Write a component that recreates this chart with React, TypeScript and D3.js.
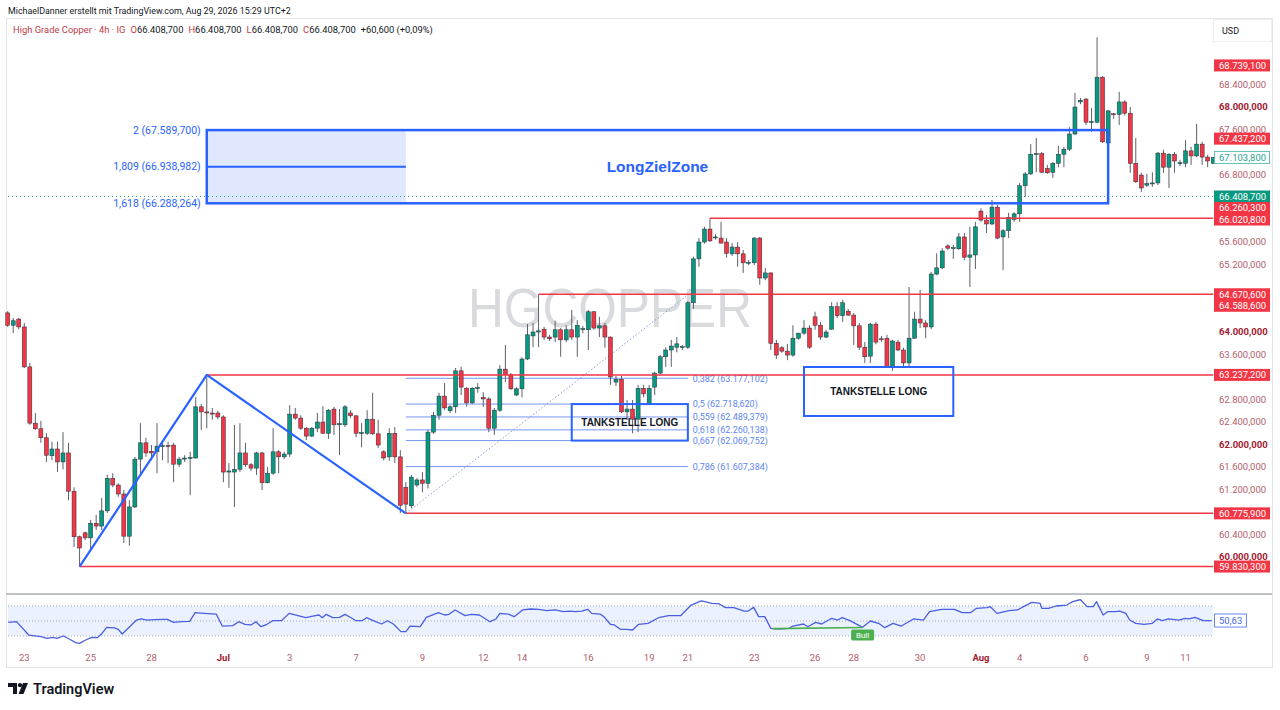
import React from 'react';
import * as d3 from 'd3';

// ---------- DATA ----------
// 4h candles, [open, high, low, close]
const ohlc: number[][] = [
  [64.34,64.37,64.09,64.12],[64.12,64.25,63.98,64.20],[64.23,64.25,64.05,64.09],[64.09,64.16,63.36,63.38],
  [63.38,63.45,62.35,62.38],[62.38,62.56,62.26,62.28],[62.28,62.42,62.03,62.12],[62.12,62.20,61.69,61.81],
  [61.80,62.05,61.72,61.92],[61.92,62.05,61.51,61.69],[61.69,62.22,61.56,61.85],[61.85,62.03,61.01,61.17],
  [61.17,61.24,60.18,60.36],[60.36,60.38,59.83,60.16],[60.43,60.45,60.30,60.34],[60.34,60.66,60.12,60.60],
  [60.60,60.75,60.48,60.55],[60.55,61.05,60.48,60.82],[60.82,61.46,60.78,61.40],[61.40,61.49,61.24,61.28],
  [61.28,61.31,61.07,61.12],[61.12,61.19,60.25,60.37],[60.37,61.01,60.20,60.89],[60.89,61.78,60.87,61.74],
  [61.74,62.38,61.49,62.03],[62.03,62.12,61.78,61.85],[61.88,61.99,61.72,61.85],[61.87,62.38,61.49,61.97],
  [61.97,62.03,61.72,61.98],[61.98,62.05,61.67,61.97],[61.99,62.03,61.33,61.65],[61.65,61.78,61.60,61.74],
  [61.74,61.81,61.69,61.76],[61.76,61.87,61.10,61.77],[61.76,62.84,61.75,62.67],[62.67,62.72,62.26,62.58],
  [62.58,63.24,62.29,62.56],[62.56,62.65,62.44,62.54],[62.56,62.60,62.45,62.49],[62.49,62.52,61.33,61.51],
  [61.51,61.67,61.23,61.53],[61.51,62.35,60.89,61.56],[61.56,62.38,61.51,61.85],[61.85,62.03,61.60,61.64],
  [61.64,61.67,61.53,61.58],[61.58,61.87,61.46,61.85],[61.85,61.87,61.19,61.32],[61.32,61.60,61.31,61.49],
  [61.49,62.29,61.46,61.87],[61.87,61.90,61.49,61.78],[61.78,61.87,61.74,61.83],[61.83,62.70,61.78,62.54],
  [62.54,62.65,62.44,62.47],[62.47,62.52,62.26,62.29],[62.29,62.31,62.08,62.15],[62.15,62.31,62.13,62.29],
  [62.29,62.56,62.22,62.40],[62.40,62.68,62.19,62.20],[62.20,62.63,62.10,62.61],[62.63,62.67,62.17,62.35],
  [62.35,62.63,61.81,62.37],[62.35,62.70,62.31,62.67],[62.56,62.61,62.47,62.51],[62.51,62.52,62.13,62.20],
  [62.20,62.38,61.95,62.21],[62.20,62.61,62.17,62.45],[62.45,62.92,62.17,62.19],[62.19,62.44,61.94,61.99],
  [61.87,61.90,61.72,61.76],[61.78,62.29,61.71,62.20],[62.20,62.31,61.67,61.78],[61.78,61.90,60.78,60.92],
  [61.24,61.33,60.78,60.94],[60.91,61.46,60.87,61.42],[61.28,61.40,61.24,61.37],[61.37,61.51,61.15,61.31],
  [61.31,62.26,61.22,62.22],[62.22,62.58,62.19,62.52],[62.52,62.92,62.44,62.86],[62.86,63.09,62.61,62.65],
  [62.60,62.70,62.56,62.67],[62.67,63.36,62.56,63.31],[63.31,63.38,62.88,63.02],[63.00,63.02,62.67,62.74],
  [62.74,63.02,62.72,63.00],[63.00,63.09,62.92,63.01],[62.84,62.93,62.67,62.81],[62.81,62.84,62.22,62.29],
  [62.29,62.65,62.17,62.61],[62.61,63.41,62.58,63.34],[63.34,63.77,63.11,63.24],[63.24,63.27,62.97,62.99],
  [62.88,63.02,62.86,62.99],[62.99,63.55,62.84,63.52],[63.52,64.14,63.50,63.95],[63.93,64.16,63.73,64.00],
  [64.00,64.67,63.73,64.02],[64.05,64.09,63.86,63.91],[63.91,63.95,63.84,63.88],[63.91,64.20,63.82,64.04],
  [64.04,64.07,63.56,63.86],[63.86,64.12,63.82,64.04],[64.04,64.39,63.86,63.91],[63.91,64.21,63.56,64.12],
  [64.05,64.11,63.98,64.06],[64.04,64.39,63.68,64.36],[64.36,64.37,64.04,64.07],[64.07,64.27,63.91,64.11],
  [64.11,64.16,63.72,63.91],[63.91,63.92,63.06,63.20],[63.11,63.22,63.04,63.16],[63.16,63.22,62.56,62.58],
  [62.58,62.79,62.44,62.63],[62.63,62.79,62.20,62.45],[62.45,63.06,62.22,63.00],[63.00,63.06,62.84,62.90],
  [62.72,63.06,62.70,63.00],[63.02,63.29,62.88,63.27],[63.27,63.59,63.24,63.56],[63.56,63.73,63.38,63.68],
  [63.68,63.86,63.38,63.75],[63.73,63.91,63.64,63.79],[63.73,63.77,63.68,63.74],[63.73,64.55,63.70,64.52],
  [64.52,65.34,64.41,65.30],[65.30,65.67,65.16,65.60],[65.60,65.87,65.57,65.83],[65.83,66.02,65.60,65.62],
  [65.68,65.74,65.64,65.69],[65.67,65.96,65.58,65.58],[65.60,65.67,65.32,65.40],[65.39,65.58,65.35,65.51],
  [65.51,65.60,65.16,65.39],[65.39,65.46,65.05,65.23],[65.23,65.28,65.19,65.24],[65.23,65.69,65.19,65.67],
  [65.67,65.69,64.84,64.96],[64.96,65.14,64.92,65.05],[65.05,65.06,63.68,63.80],[63.80,63.86,63.52,63.59],
  [63.72,63.75,63.63,63.66],[63.66,63.79,63.50,63.59],[63.59,64.12,63.56,63.89],[63.89,63.98,63.86,63.98],
  [63.98,64.21,63.95,64.07],[64.07,64.12,63.70,63.73],[64.27,64.36,64.04,64.12],[64.12,64.18,63.86,63.91],
  [63.91,64.04,63.89,64.00],[64.05,64.53,64.04,64.45],[64.45,64.53,64.25,64.29],[64.29,64.57,64.18,64.52],
  [64.37,64.41,64.29,64.30],[64.30,64.34,63.77,64.11],[64.11,64.16,63.68,63.73],[63.73,63.82,63.45,63.56],
  [63.57,64.16,63.45,64.14],[64.14,64.18,63.78,63.82],[63.88,63.93,63.82,63.87],[63.89,63.95,63.37,63.38],
  [63.38,63.86,63.31,63.84],[63.82,63.86,63.66,63.68],[63.68,63.72,63.36,63.45],[63.45,64.80,63.38,63.89],
  [63.89,64.36,63.88,64.23],[64.23,64.75,64.07,64.16],[64.16,64.21,63.89,64.09],[64.09,65.07,64.05,65.03],
  [65.03,65.40,65.01,65.14],[65.14,65.49,65.12,65.44],[65.53,65.56,65.46,65.49],[65.49,65.55,65.30,65.50],
  [65.48,65.76,65.46,65.69],[65.69,65.76,65.28,65.33],[65.33,65.87,64.80,65.37],[65.37,65.96,65.12,65.87],
  [66.15,66.20,65.96,65.99],[65.99,66.08,65.76,65.92],[65.92,66.35,65.90,66.22],[66.22,66.26,65.65,65.67],
  [65.69,65.83,65.10,65.80],[65.80,66.12,65.67,66.04],[66.00,66.13,65.96,66.10],[66.10,66.65,65.96,66.60],
  [66.60,66.84,66.40,66.81],[66.81,67.34,66.79,67.16],[67.16,67.45,66.84,67.17],[67.17,67.20,66.83,66.84],
  [66.91,66.97,66.81,66.83],[66.84,67.02,66.74,67.00],[67.00,67.31,66.93,67.16],[67.16,67.29,66.93,67.25],
  [67.25,67.64,67.22,67.52],[67.52,68.25,67.50,68.00],[68.09,68.16,68.05,68.12],[68.14,68.16,67.68,67.73],
  [67.73,67.98,67.56,67.74],[67.73,69.24,67.71,68.53],[68.53,68.55,67.36,67.38],[67.36,67.95,67.32,67.93],
  [67.88,67.89,67.79,67.87],[67.87,68.27,67.68,68.09],[68.09,68.12,67.85,67.89],[67.89,68.00,66.83,67.00],
  [67.00,67.45,66.65,66.67],[66.79,66.83,66.49,66.56],[66.61,66.81,66.58,66.64],[66.64,66.84,66.58,66.65],
  [66.65,67.20,66.61,67.18],[67.18,67.24,66.83,66.93],[66.93,67.18,66.56,67.16],[67.16,67.20,66.83,67.04],
  [67.00,67.06,66.95,67.01],[67.00,67.41,66.93,67.22],[67.22,67.29,66.97,67.13],[67.13,67.70,67.11,67.34],
  [67.34,67.38,66.97,67.11],[67.11,67.15,66.93,67.04],[67.00,67.11,66.99,67.10],
];

// RSI line, sampled points (candle index, value)
const rsiIdx = [1.1,2.6,4.8,7.0,8.1,9.2,9.9,11.1,12.2,13.3,14.0,15.1,16.2,17.2,17.9,18.9,20.3,21.0,21.7,23.2,24.3,25.1,26.2,27.7,29.1,29.9,31.0,32.4,33.9,34.9,36.5,38.7,39.8,41.7,42.8,43.9,45.0,45.9,46.8,47.9,48.9,50.5,51.9,53.5,54.9,56.4,57.3,57.9,58.6,59.8,61.0,62.0,63.1,64.0,65.1,65.9,67.1,68.6,69.7,70.8,72.1,73.0,73.8,75.6,76.7,78.9,80.0,80.8,81.9,83.7,84.8,86.3,88.2,89.3,90.0,91.5,92.6,94.1,95.6,97.0,98.5,100.0,101.5,102.6,103.7,104.8,105.9,106.6,108.1,108.8,110.0,110.7,111.8,112.9,114.0,115.1,116.8,118.7,120.5,122.7,124.6,126.4,127.1,128.3,129.7,130.8,132.3,134.2,134.9,135.9,136.8,137.9,139.0,140.4,142.3,143.0,144.9,145.7,147.1,148.2,150.0,151.1,151.9,153.3,155.6,157.0,158.5,159.6,161.1,162.6,164.8,166.6,167.7,169.9,172.2,173.6,175.1,176.2,178.1,178.7,179.9,182.1,183.6,184.7,186.2,187.7,188.0,189.2,190.6,192.5,193.6,194.7,195.0,196.2,197.3,197.9,199.1,199.9,201.3,202.1,203.2,203.9,205.0,206.5,208.0,208.9,209.8,210.9,212.8,213.9,214.6,215.7,217.2,218.7];
const rsiVal = [48.2,49.1,31.3,29.1,26.9,28.2,26.9,30.0,25.6,21.1,20.2,24.7,28.2,27.8,32.2,41.6,40.7,38.9,32.7,43.3,51.3,52.7,51.3,51.8,52.2,52.2,48.2,49.1,49.6,61.1,60.2,59.3,43.3,43.8,49.1,45.6,44.7,49.1,42.4,45.6,50.4,50.4,60.2,57.1,54.4,56.7,58.0,54.4,58.9,54.4,54.9,58.9,54.4,50.4,50.4,54.4,50.4,46.0,50.4,45.6,35.8,35.8,43.3,42.4,54.9,61.1,58.0,58.9,64.7,57.1,58.9,58.0,49.1,52.7,60.2,59.3,55.8,64.7,66.0,65.6,63.8,64.7,62.4,63.3,62.4,63.3,65.6,60.2,59.3,55.8,45.6,44.7,38.9,38.9,38.0,45.6,46.9,54.4,57.1,57.1,71.3,76.7,75.8,73.6,72.7,67.8,67.8,63.3,63.3,68.2,55.8,55.8,40.2,39.3,40.2,43.3,46.0,42.4,48.2,46.0,53.6,51.3,54.4,50.4,41.6,50.0,46.9,41.1,46.9,43.3,52.7,51.3,62.4,65.6,65.6,61.1,61.1,66.9,67.8,69.1,60.2,63.8,64.7,69.1,74.9,73.6,66.9,66.9,70.0,71.3,75.8,78.0,78.4,69.1,69.1,75.8,58.0,62.4,62.4,63.3,60.2,51.3,46.9,45.6,46.9,52.7,50.4,52.7,51.3,53.6,52.7,54.9,50.4,50.63];
const rsiLevels = [70, 50, 30];
const bullIdx = [139.3, 155.6];
const bullVal = [39.8, 41.4];

// date axis
const dateTickIdx = [4, 16, 27, 40, 52, 64, 76, 87, 94, 106, 117, 124, 136, 147, 154, 166, 177, 184, 196, 207, 214];
const dateTickLabels = ['23', '25', '28', 'Jul', '3', '7', '9', '12', '14', '16', '19', '21', '23', '26', '28', '30', 'Aug', '4', '6', '9', '11'];

// price axis ticks
const priceTicks = [60.0, 60.4, 60.8, 61.2, 61.6, 62.0, 62.4, 62.8, 63.2, 63.6, 64.0, 64.4, 64.8, 65.2, 65.6, 66.0, 66.4, 66.8, 67.2, 67.6, 68.0, 68.4, 68.8];

// horizontal support / resistance lines (price, start candle)
const hLinePrices = [59.8303, 60.7759, 63.2372, 64.6706, 66.0208];
const hLineStart = [14, 73, 37, 97, 128];

// price labels on the right scale
const redLabels = [68.7391, 67.4372, 66.2603, 66.0208, 64.6706, 64.5886, 63.2372, 60.7759, 59.8303];
const lastPrice = 66.4087;
const markPrice = 67.1038;

// zigzag (candle index, price)
const zigIdx = [14, 37, 73];
const zigPrice = [59.8303, 63.2372, 60.7759];

// fib retracement
const fibRatios = [0.382, 0.5, 0.559, 0.618, 0.667, 0.786];
const fibPrices = [63.177102, 62.71862, 62.489379, 62.260138, 62.069752, 61.607384];
const fibStartIdx = 73;
const fibEndIdx = 124;
const fibTopPrice = 64.661;

// fib extension / target zone
const extRatios = [2, 1.809, 1.618];
const extPrices = [67.5897, 66.938982, 66.288264];
const extStartIdx = 37;
const extEndIdx = 73;
const zoneEndIdx = 200;

// "Tankstelle" boxes: [startIdx, endIdx, topPrice, bottomPrice]
const tankBoxes = [
  [103, 124, 62.71862, 62.069752],
  [145, 172, 63.378, 62.507],
];

const header1 = 'MichaelDanner erstellt mit TradingView.com, Aug 29, 2026 15:29 UTC+2';
const symbolName = 'High Grade Copper · 4h · IG';
const ohlcLetters = ['O', 'H', 'L', 'C'];
const ohlcHeader = [66.4087, 66.4087, 66.4087, 66.4087];
const changeText = '+60,600 (+0,09%)';

// ---------- STYLE ----------
const GREEN = '#089981';
const RED = '#f23645';
const BLUE = '#2962ff';
const FIB = '#5f86f2';
const FONT = "Roboto, 'Liberation Sans', Arial, sans-serif";

export default function App() {
  const x = d3.scaleLinear().domain([1, 219]).range([7.7, 1213.2]);
  const y = d3.scaleLinear().domain([60, 68]).range([557, 107]);
  const ry = d3.scaleLinear().domain([30, 70]).range([636, 606]);
  const loc = d3.formatLocale({ decimal: ',', thousands: '.', grouping: [3], currency: ['', ''] });
  const fmt3 = loc.format(',.3f');
  const fmtP = (p: number) => fmt3(p * 1000);
  const fmtR = loc.format('.4~g');
  const fmt2 = loc.format('.2f');
  const plotRight = x(219);

  const rsiPath = d3.line<number>().x((_, i) => x(rsiIdx[i])).y((d) => ry(d))(rsiVal) || '';
  const zigPath = d3.line<number>().x((_, i) => x(zigIdx[i])).y((d) => y(d))(zigPrice) || '';

  // right-scale labels with collision avoidance
  type Lab = { p: number; kind: string; yy: number };
  const labs: Lab[] = [
    ...redLabels.map((p) => ({ p, kind: 'red', yy: y(p) })),
    { p: lastPrice, kind: 'green', yy: y(lastPrice) },
    { p: markPrice, kind: 'mark', yy: y(markPrice) },
  ].sort((a, b) => a.yy - b.yy);
  for (let i = 1; i < labs.length; i++) {
    if (labs[i].yy < labs[i - 1].yy + 11.5) labs[i].yy = labs[i - 1].yy + 11.5;
  }
  // tick labels hidden when covered by a price label
  const visibleTicks = priceTicks.filter((p) => labs.every((l) => Math.abs(l.yy - y(p)) >= 8.5));

  const zoneTop = y(extPrices[0]);
  const zoneBot = y(extPrices[2]);

  return (
    <svg width={1280} height={710} style={{ position: 'absolute', left: 0, top: 0, background: '#fff' }} fontFamily={FONT}>
      <rect x={0} y={0} width={1280} height={710} fill="#fff" />
      {/* frame */}
      <rect x={6.5} y={18.5} width={1266} height={649} fill="none" stroke="#e3e5ec" />
      <rect x={1213.5} y={19.5} width={58} height={22} fill="none" stroke="#eceef2" />
      <text x={1222} y={34} fontSize={9} fill="#131722">USD</text>

      {/* header */}
      <text x={8} y={14} fontSize={8.9} fill="#131722">{header1}</text>
      <text x={13} y={33} fontSize={9.4} fill="#131722">
        <tspan fill="#c23b4a">{symbolName}</tspan>
        {ohlcLetters.map((l, i) => (
          <React.Fragment key={l}>
            <tspan fill="#c23b4a" dx={5}>{l}</tspan>
            <tspan>{fmtP(ohlcHeader[i])}</tspan>
          </React.Fragment>
        ))}
        <tspan dx={5}>{changeText}</tspan>
      </text>

      {/* watermark */}
      <text x={610} y={327} fontSize={55} fill="#d9dadd" textAnchor="middle" textLength={284} lengthAdjust="spacingAndGlyphs" fontFamily="'Liberation Sans', Arial, sans-serif">HGCOPPER</text>

      {/* extension fill */}
      <rect x={x(extStartIdx)} y={zoneTop} width={x(extEndIdx) - x(extStartIdx)} height={zoneBot - zoneTop} fill="rgba(41,98,255,0.15)" />

      {/* last price dotted line */}
      <line x1={8} x2={plotRight} y1={y(lastPrice)} y2={y(lastPrice)} stroke={GREEN} strokeWidth={1} strokeDasharray="1 3" opacity={0.8} />

      {/* fib retracement */}
      <line x1={x(fibStartIdx)} y1={y(zigPrice[2])} x2={x(fibEndIdx)} y2={y(fibTopPrice)} stroke="#8a9fd8" strokeWidth={1} strokeDasharray="1.5 2" />
      {fibPrices.map((p, i) => (
        <g key={i}>
          <line x1={x(fibStartIdx)} x2={x(fibEndIdx)} y1={y(p)} y2={y(p)} stroke={FIB} strokeWidth={1} opacity={0.85} />
          <text x={x(fibEndIdx) + 5} y={y(p) + 3.3} fontSize={9} fill={FIB}>{`${fmtR(fibRatios[i])} (${fmtP(p)})`}</text>
        </g>
      ))}

      {/* candles */}
      {ohlc.map(([o, h, l, c], i) => {
        const cx = x(i + 1);
        const up = c >= o;
        const yt = y(Math.max(o, c));
        const yb = y(Math.min(o, c));
        return (
          <g key={i}>
            <line x1={cx} x2={cx} y1={y(Math.max(h, o, c))} y2={y(Math.min(l, o, c))} stroke="#5d606b" strokeWidth={1} />
            <rect x={cx - 2} y={yt} width={4} height={Math.max(1, yb - yt)} fill={up ? GREEN : RED} stroke="#2a2e39" strokeWidth={0.5} />
          </g>
        );
      })}

      {/* horizontal lines */}
      {hLinePrices.map((p, i) => (
        <line key={i} x1={x(hLineStart[i])} x2={plotRight} y1={y(p)} y2={y(p)} stroke={RED} strokeWidth={1.5} />
      ))}

      {/* zigzag */}
      <path d={zigPath} fill="none" stroke={BLUE} strokeWidth={2.2} strokeLinejoin="round" />

      {/* extension middle line + zone */}
      <line x1={x(extStartIdx)} x2={x(extEndIdx)} y1={y(extPrices[1])} y2={y(extPrices[1])} stroke={BLUE} strokeWidth={2} />
      <rect x={x(extStartIdx)} y={zoneTop} width={x(zoneEndIdx) - x(extStartIdx)} height={zoneBot - zoneTop} fill="none" stroke={BLUE} strokeWidth={2.5} />
      {extPrices.map((p, i) => (
        <text key={i} x={x(extStartIdx) - 6} y={y(p) + 3.5} fontSize={10.5} fill={BLUE} textAnchor="end">{`${fmtR(extRatios[i])} (${fmtP(p)})`}</text>
      ))}
      <text x={(x(extStartIdx) + x(zoneEndIdx)) / 2} y={y(extPrices[1]) + 5.5} fontSize={15.5} fontWeight={700} fill={BLUE} textAnchor="middle" fontFamily="'Liberation Sans', Arial, sans-serif">LongZielZone</text>

      {/* tankstelle boxes */}
      {tankBoxes.map(([a, b, pt, pb], i) => (
        <g key={i}>
          <rect x={x(a)} y={y(pt)} width={x(b) - x(a)} height={y(pb) - y(pt)} fill="none" stroke={BLUE} strokeWidth={2} />
          <text x={(x(a) + x(b)) / 2} y={(y(pt) + y(pb)) / 2 + 3.6} fontSize={10} fontWeight={700} fill="#131722" textAnchor="middle" fontFamily="'Liberation Sans', Arial, sans-serif">TANKSTELLE LONG</text>
        </g>
      ))}

      {/* price axis ticks */}
      {visibleTicks.map((p) => {
        const bold = Math.abs(p - Math.round(p)) < 0.01 && Math.round(p) % 2 === 0;
        return (
          <text key={p} x={1219} y={y(p) + 3.3} fontSize={9.5} fontWeight={bold ? 700 : 400} fill={bold ? '#a3202f' : '#b3606c'}>{fmtP(p)}</text>
        );
      })}

      {/* right labels */}
      {labs.map((l, i) => {
        if (l.kind === 'mark') {
          return (
            <g key={i}>
              <rect x={1214.5} y={l.yy - 6} width={55} height={12} fill="#fff" stroke="#5fbfae" strokeWidth={1} />
              <text x={1219} y={l.yy + 3.3} fontSize={9.5} fill="#2aa38f">{fmtP(l.p)}</text>
            </g>
          );
        }
        return (
          <g key={i}>
            <rect x={1214} y={l.yy - 6} width={56} height={12} fill={l.kind === 'green' ? GREEN : RED} />
            <text x={1219} y={l.yy + 3.3} fontSize={9.5} fill="#fff">{fmtP(l.p)}</text>
          </g>
        );
      })}

      {/* pane separator */}
      <line x1={6} x2={1272} y1={594} y2={594} stroke="#a9acb5" strokeWidth={1.6} />

      {/* RSI pane */}
      <rect x={8} y={ry(70)} width={plotRight - 8} height={ry(30) - ry(70)} fill="rgba(41,98,255,0.09)" />
      {rsiLevels.map((v) => (
        <line key={v} x1={8} x2={plotRight} y1={ry(v)} y2={ry(v)} stroke="#a9adb8" strokeWidth={1} strokeDasharray="1 2" />
      ))}
      <path d={rsiPath} fill="none" stroke="#4a5fe0" strokeWidth={1.3} strokeLinejoin="round" />
      <line x1={x(bullIdx[0])} x2={x(bullIdx[1])} y1={ry(bullVal[0])} y2={ry(bullVal[1])} stroke="#4caf50" strokeWidth={1.6} />
      <rect x={x(bullIdx[1]) - 11.5} y={ry(bullVal[1]) + 2} width={23} height={11} rx={1.5} fill="#4caf50" />
      <text x={x(bullIdx[1])} y={ry(bullVal[1]) + 10.7} fontSize={8} fill="#fff" textAnchor="middle">Bull</text>
      <rect x={1214.5} y={ry(rsiVal[rsiVal.length - 1]) - 6.5} width={32} height={13} fill="#fff" stroke="#6b86f0" strokeWidth={1} />
      <text x={1219} y={ry(rsiVal[rsiVal.length - 1]) + 3.3} fontSize={9.5} fill="#4a68e8">{fmt2(rsiVal[rsiVal.length - 1])}</text>

      {/* date axis */}
      {dateTickIdx.map((idx, i) => {
        const bold = /[A-Za-z]/.test(dateTickLabels[i]);
        return (
          <text key={i} x={x(idx)} y={661} fontSize={9.5} fontWeight={bold ? 700 : 400} fill={bold ? '#a3202f' : '#b3606c'} textAnchor="middle">{dateTickLabels[i]}</text>
        );
      })}

      {/* TradingView logo */}
      <g fill="#131722">
        <path d="M8 683 H17 V694 H13 V687 H8 Z" />
        <circle cx={20} cy={685.2} r={2.1} />
        <path d="M23 683 H28 L23.5 694 H18.5 Z" />
      </g>
      <text x={33} y={694} fontSize={14.5} fontWeight={600} fill="#131722">TradingView</text>
    </svg>
  );
}
